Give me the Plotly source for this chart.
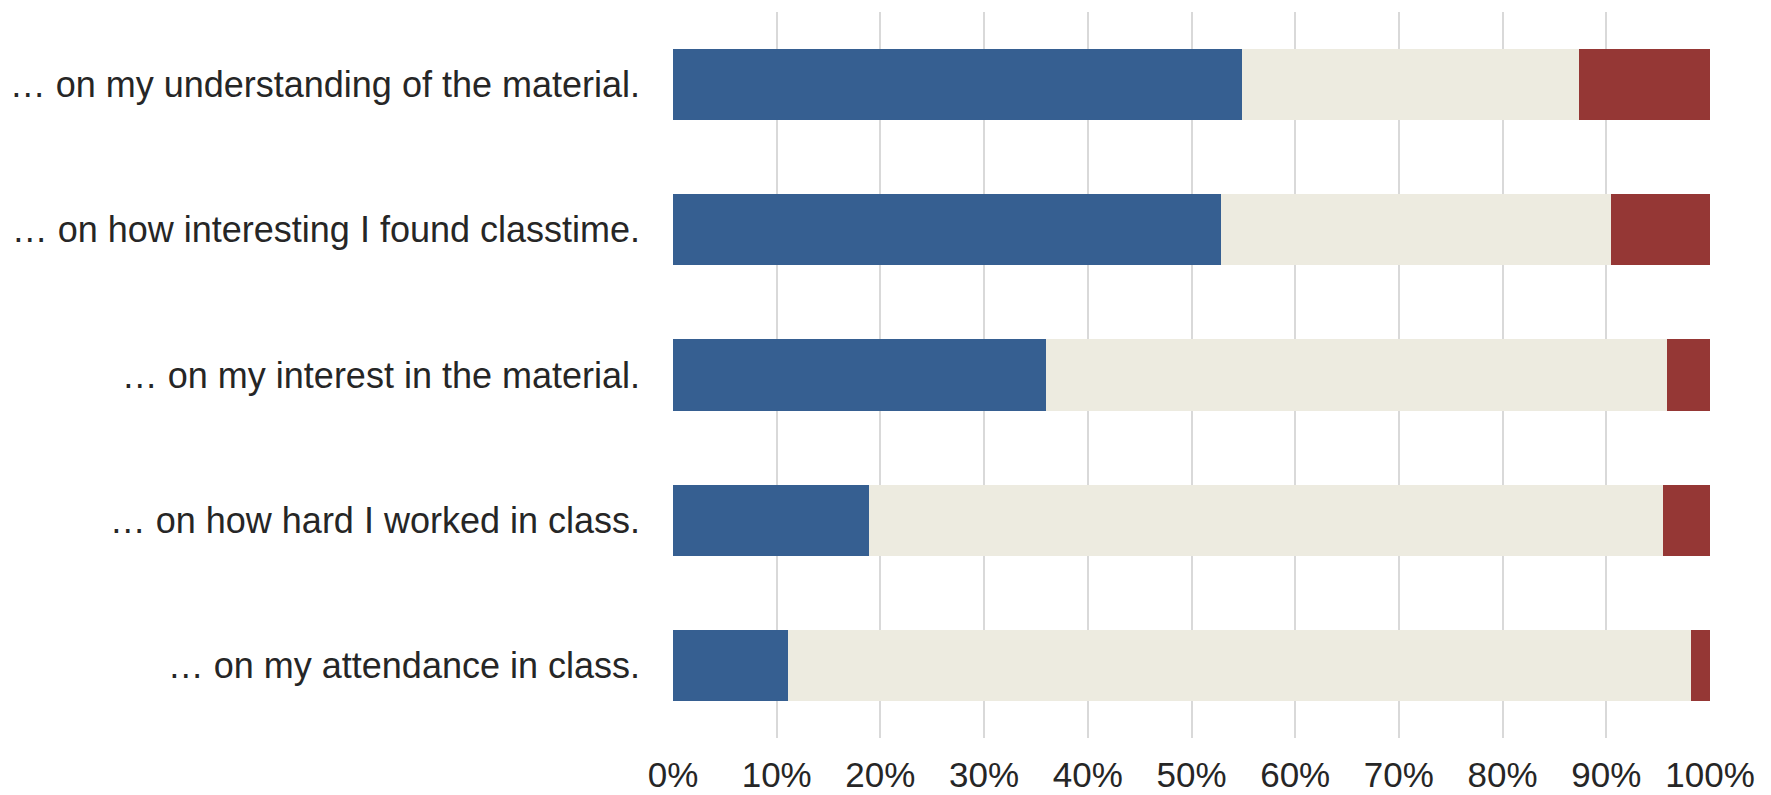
import plotly.graph_objects as go

# Survey statements (top to bottom) and response shares in percent
statements = [
    "… on my understanding of the material.",
    "… on how interesting I found classtime.",
    "… on my interest in the material.",
    "… on how hard I worked in class.",
    "… on my attendance in class.",
]
positive = [54.9, 52.8, 36.0, 18.9, 11.1]
neutral = [32.5, 37.7, 59.9, 76.6, 87.1]
negative = [12.6, 9.5, 4.1, 4.5, 1.8]

tick_values = [0, 10, 20, 30, 40, 50, 60, 70, 80, 90, 100]
tick_labels = [f"{v}%" for v in tick_values]

series = [
    ("Positive", positive, "#365F91"),
    ("Neutral", neutral, "#EDEBE0"),
    ("Negative", negative, "#953735"),
]

fig = go.Figure()
for name, values, color in series:
    fig.add_trace(go.Bar(
        name=name,
        y=statements,
        x=values,
        orientation="h",
        marker=dict(color=color, line=dict(width=0)),
        width=0.49,
        hoverinfo="x+y",
    ))

fig.update_layout(
    barmode="stack",
    width=1771,
    height=795,
    margin=dict(l=673, r=61, t=12, b=57, autoexpand=False),
    paper_bgcolor="white",
    plot_bgcolor="white",
    showlegend=False,
    font=dict(family="Liberation Sans, Arial, sans-serif", color="#262626"),
)
fig.update_xaxes(
    range=[0, 100],
    tickvals=tick_values,
    ticktext=tick_labels,
    showgrid=True,
    gridcolor="#D9D9D9",
    gridwidth=1.5,
    zeroline=False,
    showline=False,
    ticks="",
    tickfont=dict(size=35),
    ticklabelstandoff=13,
    automargin=False,
)
fig.update_yaxes(
    categoryorder="array",
    categoryarray=statements[::-1],
    showgrid=False,
    zeroline=False,
    showline=False,
    ticks="",
    tickfont=dict(size=36),
    ticklabelstandoff=32,
    automargin=False,
)

fig.write_html("out.html")
